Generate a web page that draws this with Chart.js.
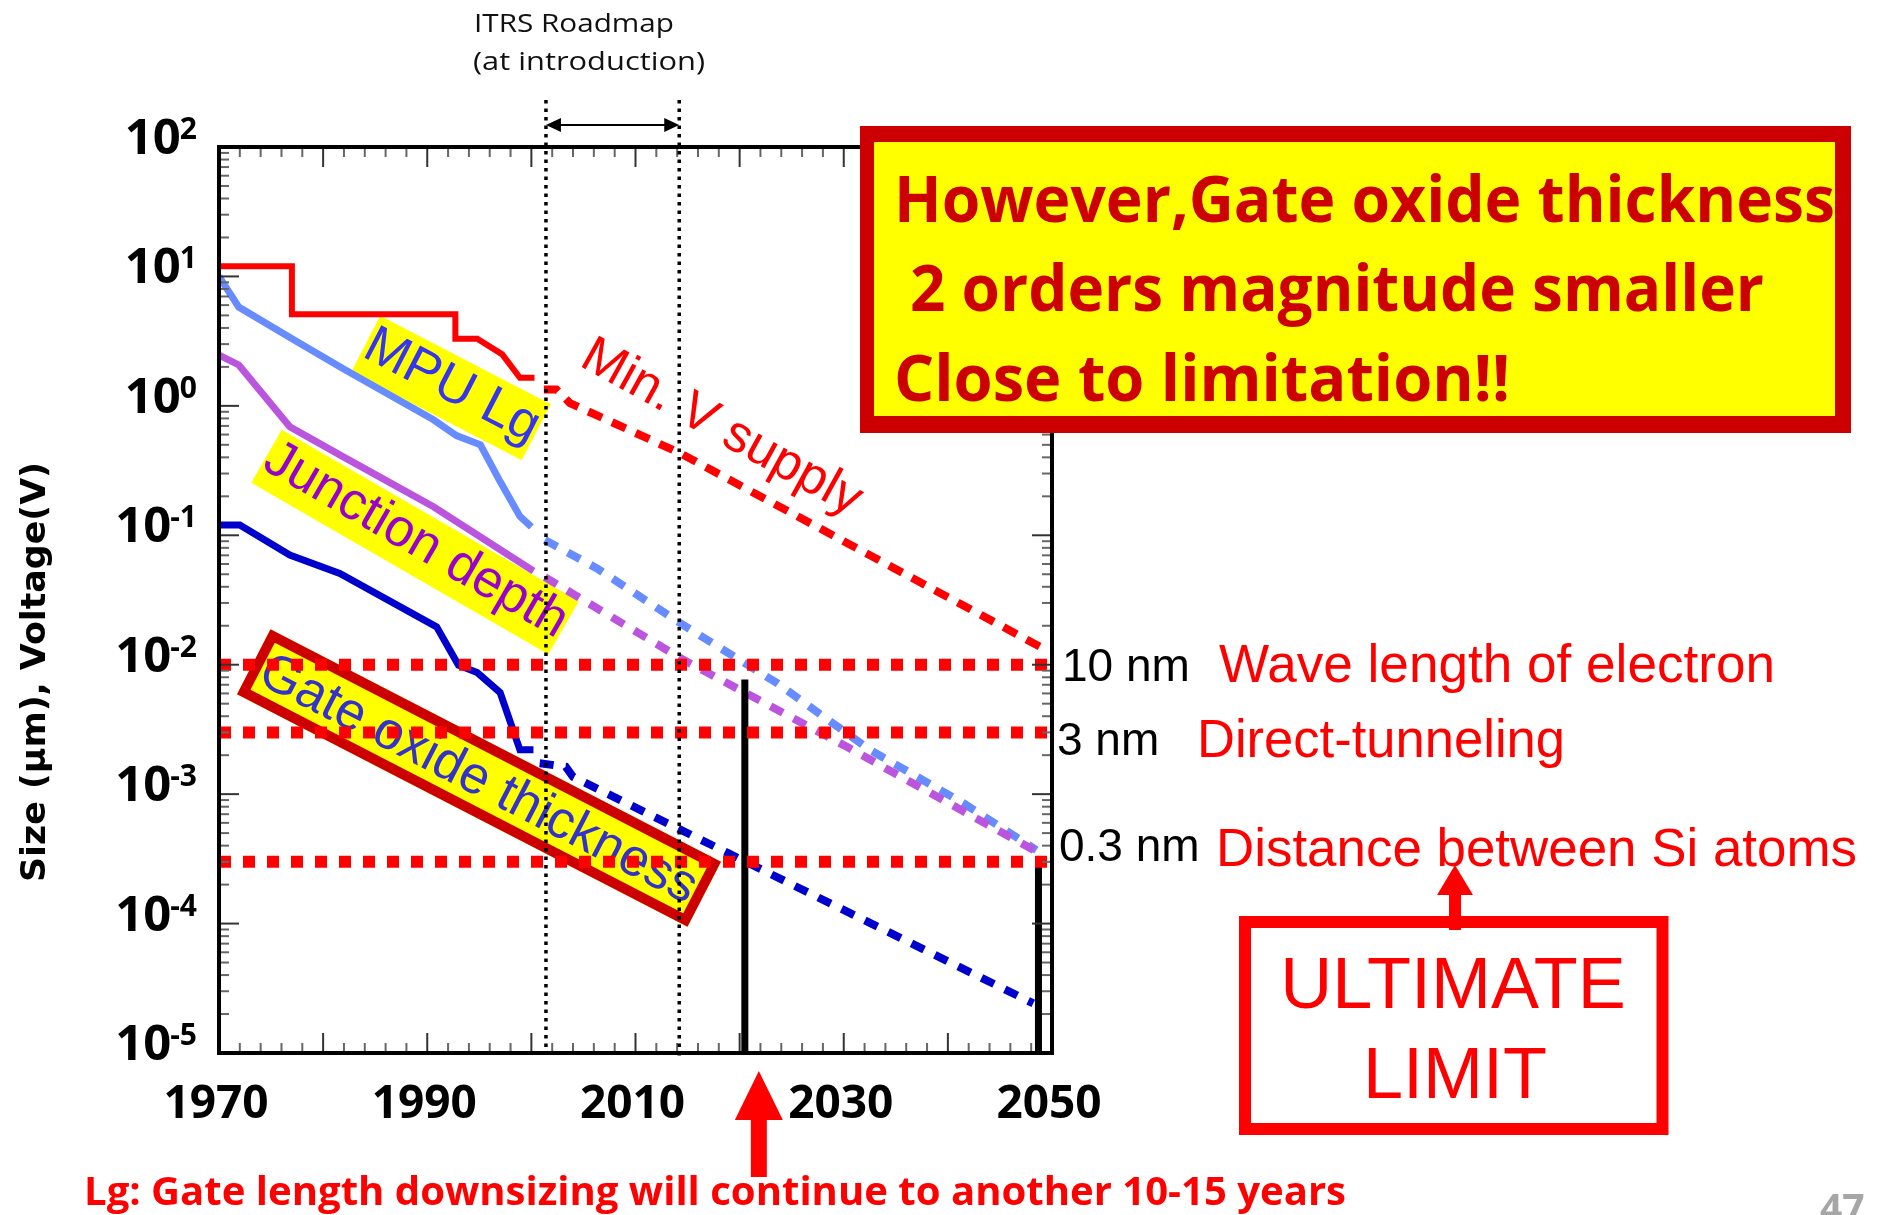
<!DOCTYPE html>
<html>
<head>
<meta charset="utf-8">
<script src="https://cdn.jsdelivr.net/npm/chart.js@4.4.1/dist/chart.umd.min.js"></script>
<style>
  html, body { margin: 0; padding: 0; background: #ffffff; overflow: hidden; }
  canvas { display: block; }
</style>
</head>
<body>
<canvas id="scaling" width="1881" height="1215"></canvas>
<script>
// ---- data -------------------------------------------------------------
// Minimum supply voltage (V): history, then roadmap projection
const vddYears = [1970, 1977, 1977, 1992.7, 1992.7, 1994.8, 1997.2, 1998.9, 2000.3];
const vddVolts = [12, 12, 5.1, 5.1, 3.3, 3.3, 2.5, 1.65, 1.65];
const vddRoadmapYears = [2001.2, 2002.4, 2003.7, 2014.3, 2048.9];
const vddRoadmapVolts = [1.34, 1.34, 1.05, 0.43, 0.0137];

// MPU gate length Lg (µm)
const lgYears = [1970, 1971.9, 1977.3, 1982.1, 1990.6, 1992.8, 1995.1, 1997, 1998.9, 2000];
const lgMicrons = [10, 5.8, 3.2, 1.9, 0.78, 0.59, 0.5, 0.26, 0.14, 0.116];
const lgRoadmapYears = [2001.3, 2006.3, 2014.6, 2023.6, 2032.5, 2041.5, 2048.5];
const lgRoadmapMicrons = [0.092, 0.0555, 0.0202, 0.0072, 0.0022, 0.00085, 0.00037];

// Junction depth (µm)
const xjYears = [1970, 1971.9, 1976.8, 1981.9, 1990.6, 2000.2];
const xjMicrons = [2.47, 2.07, 0.69, 0.405, 0.166, 0.053];
const xjRoadmapYears = [2001.3, 2014.6, 2030.3, 2048.5];
const xjRoadmapMicrons = [0.0475, 0.0109, 0.00232, 0.00036];

// Gate oxide thickness (µm)
const toxYears = [1970, 1972, 1976.8, 1981.6, 1990.9, 1993, 1994.8, 1997, 1998.9, 2000.2];
const toxMicrons = [0.12, 0.12, 0.0703, 0.0507, 0.0196, 0.0099, 0.0087, 0.0061, 0.0022, 0.0022];
const toxRoadmapYears = [2000.8, 2003.3, 2004, 2018.9, 2048.2];
const toxRoadmapMicrons = [0.00173, 0.00163, 0.00136, 0.00035, 0.0000242];

// Physical limits (µm)
const limitMicrons = [0.01, 0.003, 0.0003];
const limitNames = ['10 nm', '3 nm', '0.3 nm'];
const limitMeanings = ['Wave length of electron', 'Direct-tunneling', 'Distance between Si atoms'];

// End-of-scaling bars: year and top value (µm)
const barYears = [2020.5, 2048.7];
const barTops = [0.0077, 0.00029];

// ITRS roadmap window at introduction (years)
const itrsYears = [2001.4, 2014.2];

// Axes
const yearMin = 1970, yearMax = 2050;
const sizeMin = 1e-5, sizeMax = 100;
const xLabelYears = [1970, 1990, 2010, 2030, 2050];
const xMinorStep = 2, xMajorStep = 10;
const yExponents = [2, 1, 0, -1, -2, -3, -4, -5];

// ---- helpers ----------------------------------------------------------
const zip = (xs, ys) => xs.map((x, i) => ({ x: x, y: ys[i] }));
const ARIAL = '"Liberation Sans", Arial, sans-serif';
const SANS = '"Open Sans", "Noto Sans", sans-serif';

function line(color, width, points, dash, order) {
  return {
    data: points, borderColor: color, borderWidth: width,
    borderDash: dash || [], borderCapStyle: 'butt', borderJoinStyle: 'miter',
    pointRadius: 0, tension: 0, fill: false, order: order
  };
}

// Draw text, optionally squeezed/stretched horizontally to a given width
function fitText(ctx, text, x, y, width, font, color, align) {
  ctx.save();
  ctx.font = font;
  ctx.fillStyle = color;
  ctx.textBaseline = 'alphabetic';
  ctx.textAlign = 'left';
  const w = ctx.measureText(text).width;
  const s = width ? width / w : 1;
  let left = x;
  if (align === 'center') left = x - w * s / 2;
  else if (align === 'right') left = x - w * s;
  ctx.translate(left, y);
  ctx.scale(s, 1);
  ctx.fillText(text, 0, 0);
  ctx.restore();
}

function polygon(ctx, pts, color) {
  ctx.beginPath();
  ctx.moveTo(pts[0][0], pts[0][1]);
  for (let i = 1; i < pts.length; i++) ctx.lineTo(pts[i][0], pts[i][1]);
  ctx.closePath();
  ctx.fillStyle = color;
  ctx.fill();
}

function seg(ctx, x1, y1, x2, y2) {
  ctx.beginPath();
  ctx.moveTo(x1, y1);
  ctx.lineTo(x2, y2);
  ctx.stroke();
}

// Yellow tilted call-outs naming each curve
const callouts = [
  { text: 'MPU Lg', cx: 451, cy: 388, w: 192, h: 63, angle: 27.4, color: '#3535EE', dy: 13 },
  { text: 'Junction depth', cx: 415, cy: 542, w: 343, h: 61, angle: 30.0, color: '#9900CC', dy: 13 },
  { text: 'Gate oxide thickness', cx: 479, cy: 778, w: 507, h: 73, angle: 27.3, color: '#3333CC', dy: 17, border: 10 }
];

const decor = {
  id: 'decor',
  beforeDatasetsDraw(chart) {
    const ctx = chart.ctx;
    callouts.forEach(b => {
      ctx.save();
      ctx.translate(b.cx, b.cy);
      ctx.rotate(b.angle * Math.PI / 180);
      ctx.fillStyle = '#FFFF00';
      ctx.fillRect(-b.w / 2, -b.h / 2, b.w, b.h);
      if (b.border) {
        ctx.lineWidth = b.border;
        ctx.strokeStyle = '#CC0000';
        ctx.strokeRect(-b.w / 2 + b.border / 2, -b.h / 2 + b.border / 2, b.w - b.border, b.h - b.border);
      }
      ctx.font = '53px ' + ARIAL;
      ctx.fillStyle = b.color;
      ctx.textAlign = 'center';
      ctx.textBaseline = 'alphabetic';
      const inner = b.w - (b.border ? 2 * b.border + 2 : 2);
      const w = ctx.measureText(b.text).width;
      const s = Math.min(1, inner / w);
      ctx.scale(s, 1);
      ctx.fillText(b.text, 0, b.dy);
      ctx.restore();
    });
  },
  afterDatasetsDraw(chart) {
    const ctx = chart.ctx;
    const a = chart.chartArea;
    const xs = chart.scales.x, ys = chart.scales.y;

    // tick marks, pointing inward on all four sides
    ctx.save();
    ctx.lineWidth = 2;
    for (let yr = yearMin; yr <= yearMax; yr += xMinorStep) {
      const px = xs.getPixelForValue(yr);
      const major = (yr - yearMin) % xMajorStep === 0;
      const len = major ? 20 : 10;
      ctx.strokeStyle = major ? '#333333' : '#666666';
      seg(ctx, px, a.bottom, px, a.bottom - len);
      seg(ctx, px, a.top, px, a.top + len);
    }
    for (let e = -5; e <= 2; e++) {
      for (let k = 1; k <= 9; k++) {
        if (e === 2 && k > 1) break;
        const py = ys.getPixelForValue(k * Math.pow(10, e));
        const major = k === 1;
        const len = major ? 20 : 10;
        ctx.strokeStyle = major ? '#333333' : '#666666';
        seg(ctx, a.left, py, a.left + len, py);
        seg(ctx, a.right, py, a.right - len, py);
      }
    }
    // plot frame
    ctx.strokeStyle = '#000000';
    ctx.lineWidth = 4;
    ctx.strokeRect(a.left, a.top, a.right - a.left, a.bottom - a.top);

    // ITRS window: dotted verticals and a double arrow
    ctx.lineWidth = 3.5;
    ctx.setLineDash([3.5, 5]);
    itrsYears.forEach((yr, i) => {
      const px = xs.getPixelForValue(yr);
      seg(ctx, px, 100, px, a.bottom + (i === 1 ? 7 : 0));
    });
    ctx.setLineDash([]);
    const ax1 = xs.getPixelForValue(itrsYears[0]);
    const ax2 = xs.getPixelForValue(itrsYears[1]);
    const ay = 125;
    ctx.lineWidth = 2;
    seg(ctx, ax1 + 10, ay, ax2 - 10, ay);
    polygon(ctx, [[ax1, ay], [ax1 + 15, ay - 7], [ax1 + 15, ay + 7]], '#000000');
    polygon(ctx, [[ax2, ay], [ax2 - 15, ay - 7], [ax2 - 15, ay + 7]], '#000000');
    ctx.restore();

    fitText(ctx, 'ITRS Roadmap', 474, 32, 200, '26px ' + SANS, '#111111');
    fitText(ctx, '(at introduction)', 473, 70, 232, '26px ' + SANS, '#111111');

    // y tick labels: 10 with superscript exponent
    yExponents.forEach(e => {
      const py = ys.getPixelForValue(Math.pow(10, e));
      ctx.save();
      ctx.font = 'bold 30px ' + SANS;
      const expText = e < 0 ? '-' + (-e) : String(e);
      const ew = ctx.measureText(expText).width;
      ctx.fillStyle = '#000000';
      ctx.textBaseline = 'alphabetic';
      ctx.textAlign = 'left';
      const right = 197;
      ctx.fillText(expText, right - ew, py - 8);
      ctx.restore();
      fitText(ctx, '10', right - ew + 1, py + 7, 56, 'bold 48px ' + SANS, '#000000', 'right');
    });

    // x tick labels
    xLabelYears.forEach(yr => {
      const px = xs.getPixelForValue(yr);
      fitText(ctx, String(yr), px - 3, 1118, 0, 'bold 46px ' + SANS, '#000000', 'center');
    });

    // y axis title
    ctx.save();
    ctx.translate(45, 672);
    ctx.rotate(-Math.PI / 2);
    fitText(ctx, 'Size (\u03bcm), Voltage(V)', 0, 0, 420, 'bold 34px "DejaVu Sans", sans-serif', '#000000', 'center');
    ctx.restore();

    // curve label along the supply voltage line
    ctx.save();
    ctx.translate(578, 365);
    ctx.rotate(29 * Math.PI / 180);
    ctx.font = '52px ' + ARIAL;
    ctx.fillStyle = '#FF0000';
    ctx.textAlign = 'left';
    ctx.textBaseline = 'alphabetic';
    ctx.fillText('Min. V supply', 0, 0);
    ctx.restore();

    // limit names and meanings
    const namePos = [[1062, 681], [1057, 755], [1059, 861]];
    const meanPos = [[1219, 682, 556], [1197, 757, 368], [1216, 866, 641]];
    limitNames.forEach((t, i) => fitText(ctx, t, namePos[i][0], namePos[i][1], 0, '46px ' + ARIAL, '#000000'));
    limitMeanings.forEach((t, i) => fitText(ctx, t, meanPos[i][0], meanPos[i][1], meanPos[i][2], '53px ' + ARIAL, '#FF0000'));

    // message box
    ctx.fillStyle = '#CC0000';
    ctx.fillRect(860, 126, 991, 307);
    ctx.fillStyle = '#FFFF00';
    ctx.fillRect(874, 142, 961, 274);
    const msgFont = 'bold 65px ' + SANS;
    fitText(ctx, 'However,Gate oxide thickness', 894, 222, 941, msgFont, '#CC0000');
    fitText(ctx, '2 orders magnitude smaller', 910, 311, 854, msgFont, '#CC0000');
    fitText(ctx, 'Close to limitation!!', 894, 401, 616, msgFont, '#CC0000');

    // ultimate limit box with arrow to the atomic spacing
    ctx.save();
    ctx.strokeStyle = '#FF0000';
    ctx.lineWidth = 12;
    ctx.strokeRect(1245, 922, 417.5, 207);
    ctx.restore();
    fitText(ctx, 'ULTIMATE', 1453, 1008, 0, '72px ' + ARIAL, '#FF0000', 'center');
    fitText(ctx, 'LIMIT', 1455, 1098, 0, '72px ' + ARIAL, '#FF0000', 'center');
    ctx.fillStyle = '#FF0000';
    ctx.fillRect(1449, 890, 12, 40);
    polygon(ctx, [[1455, 865], [1437, 895], [1473, 895]], '#FF0000');

    // arrow under the first end-of-scaling bar
    const bx = xs.getPixelForValue(barYears[0]) + 14;
    ctx.fillStyle = '#FF0000';
    ctx.fillRect(bx - 8, 1117, 16, 60);
    polygon(ctx, [[bx, 1071], [bx - 24, 1120], [bx + 24, 1120]], '#FF0000');

    fitText(ctx, 'Lg: Gate length downsizing will continue to another 10-15 years', 84, 1205, 1262, 'bold 40px ' + SANS, '#FF0000');

    fitText(ctx, '47', 1820, 1222, 0, 'bold 39px ' + SANS, '#A6A6A6');
  }
};

// ---- chart ------------------------------------------------------------
const datasets = [
  ...limitMicrons.map(v => line('#FF0000', 12, zip([yearMin, yearMax], [v, v]), [12, 12], 0)),
  ...barYears.map((yr, i) => line('#000000', 7, zip([yr, yr], [barTops[i], sizeMin]), null, 1)),
  line('#FF0000', 6, zip(vddYears, vddVolts), null, 2),
  line('#FF0000', 8, zip(vddRoadmapYears, vddRoadmapVolts), [15, 11], 2),
  line('#668CFF', 7, zip(lgYears, lgMicrons), null, 3),
  line('#668CFF', 8, zip(lgRoadmapYears, lgRoadmapMicrons), [14, 12], 3),
  line('#BB55DD', 7, zip(xjYears, xjMicrons), null, 2),
  line('#BB55DD', 8, zip(xjRoadmapYears, xjRoadmapMicrons), [14, 12], 2),
  line('#0000CC', 7, zip(toxYears, toxMicrons), null, 2),
  line('#0000CC', 8, zip(toxRoadmapYears, toxRoadmapMicrons), [14, 12], 2)
];

new Chart(document.getElementById('scaling'), {
  type: 'line',
  data: { datasets: datasets },
  options: {
    responsive: false,
    animation: false,
    devicePixelRatio: 1,
    layout: { padding: { left: 219, right: 829, top: 147, bottom: 162 } },
    plugins: { legend: { display: false }, tooltip: { enabled: false }, title: { display: false } },
    scales: {
      x: { type: 'linear', min: yearMin, max: yearMax, display: false },
      y: { type: 'logarithmic', min: sizeMin, max: sizeMax, display: false }
    }
  },
  plugins: [decor]
});
</script>
</body>
</html>
